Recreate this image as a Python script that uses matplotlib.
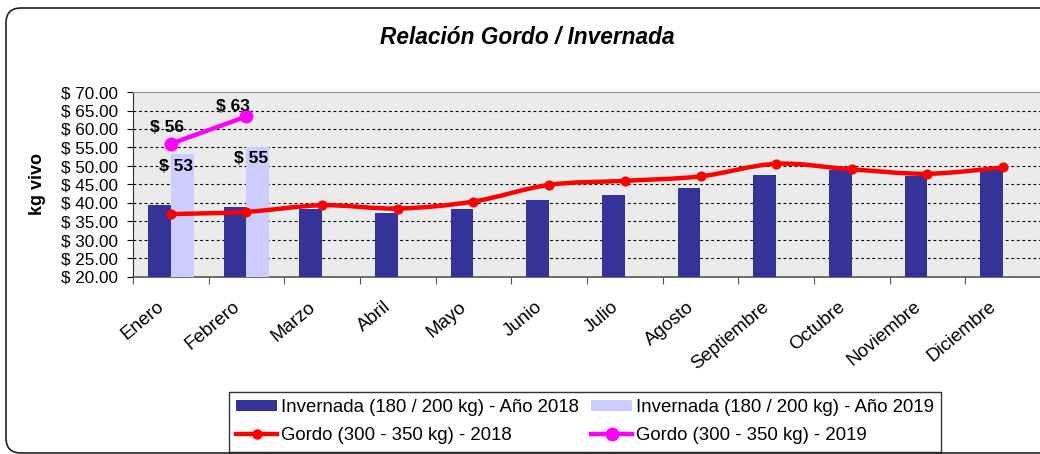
import matplotlib
matplotlib.use("Agg")
import matplotlib.pyplot as plt
import matplotlib.transforms as mtransforms
from matplotlib.path import Path
from matplotlib.patches import PathPatch, FancyBboxPatch, Patch
from matplotlib.lines import Line2D
from matplotlib.ticker import FuncFormatter, MultipleLocator
import numpy as np

plt.rcParams['font.family'] = ['Liberation Sans', 'DejaVu Sans']

months = ["Enero", "Febrero", "Marzo", "Abril", "Mayo", "Junio", "Julio",
          "Agosto", "Septiembre", "Octubre", "Noviembre", "Diciembre"]
invernada_2018 = [39.5, 38.8, 38.4, 37.3, 38.4, 40.7, 42.2, 44.0, 47.6, 48.8, 47.4, 49.0]
invernada_2019 = [53.3, 55.1]
gordo_2018 = [37.0, 37.6, 39.4, 38.5, 40.4, 44.9, 46.0, 47.2, 50.6, 49.1, 47.9, 49.6]
gordo_2019 = [56.0, 63.4]
labels_inv_2019 = ["$ 53", "$ 55"]
labels_gordo_2019 = ["$ 56", "$ 63"]

title = "Relación Gordo / Invernada"
ylabel = "kg vivo"
legend_labels = ["Invernada (180 / 200 kg) - Año 2018",
                 "Invernada (180 / 200 kg) - Año 2019",
                 "Gordo (300 - 350 kg) - 2018",
                 "Gordo (300 - 350 kg) - 2019"]

C_DARK = "#333399"
C_LIGHT = "#CCCCFF"
C_RED = "#FF0000"
C_MAG = "#FF00FF"

W, H = 1040, 454
fig = plt.figure(figsize=(W / 100, H / 100), dpi=100)
fig.patch.set_facecolor("white")

# outer rounded border (in inches; right edge lies outside the picture)
border = FancyBboxPatch((0.06, 0.01), 10.6, 4.46 - 0.01,
                        boxstyle="round,pad=0,rounding_size=0.15",
                        transform=fig.dpi_scale_trans, facecolor="none",
                        edgecolor="#222222", linewidth=1.2)
fig.patches.append(border)

ax = fig.add_axes([133 / W, 1 - 277 / H, (1041 - 133) / W, (277 - 92) / H])
ax.set_facecolor("#EBEBEB")
ax.set_xlim(-0.5, 11.5)
ax.set_ylim(20, 70)

x = np.arange(len(months))
bw = 0.3
ax.bar(x - bw / 2, invernada_2018, width=bw, color=C_DARK, zorder=3)
x19 = np.arange(len(invernada_2019))
ax.bar(x19 + bw / 2, invernada_2019, width=bw, color=C_LIGHT, zorder=3)

ax.yaxis.set_major_locator(MultipleLocator(5))
for v in np.arange(25, 70, 5):
    ax.axhline(v, color="black", linewidth=0.8, linestyle=(0, (2.5, 2.5)), zorder=1)


def smooth_path(xs, ys):
    pts = np.column_stack([xs, ys]).astype(float)
    n = len(pts)
    verts = [pts[0]]
    codes = [Path.MOVETO]
    for i in range(n - 1):
        p0 = pts[i - 1] if i > 0 else pts[i]
        p1 = pts[i]
        p2 = pts[i + 1]
        p3 = pts[i + 2] if i + 2 < n else pts[i + 1]
        c1 = p1 + (p2 - p0) / 6.0
        c2 = p2 - (p3 - p1) / 6.0
        verts += [c1, c2, p2]
        codes += [Path.CURVE4] * 3
    return Path(verts, codes)


ax.add_patch(PathPatch(smooth_path(x, gordo_2018), facecolor="none",
                       edgecolor=C_RED, linewidth=3.2, zorder=4, capstyle="round"))
ax.plot(x, gordo_2018, linestyle="none", marker="o", markersize=6.3,
        color=C_RED, zorder=5)
ax.plot(x19, gordo_2019, color=C_MAG, linewidth=3.2, marker="o",
        markersize=9, zorder=5)

for xi, v, t in zip(x19, gordo_2019, labels_gordo_2019):
    off = (-4, 16) if xi == 0 else (-14, 10)
    ax.annotate(t, (xi, v), xytext=off, textcoords="offset pixels",
                ha="center", va="center", fontsize=12.5, fontweight="bold", zorder=6)
for xi, v, t in zip(x19, invernada_2019, labels_inv_2019):
    off = (-6, -13) if xi == 0 else (-7, -11)
    ax.annotate(t, (xi + bw / 2, v), xytext=off, textcoords="offset pixels",
                ha="center", va="center", fontsize=12.5, fontweight="bold", zorder=6)

for s in ["top", "right"]:
    ax.spines[s].set_color("#909090")
ax.spines["left"].set_color("#333333")
ax.spines["bottom"].set_color("#555555")
ax.spines["bottom"].set_linewidth(1.2)

ax.yaxis.set_major_formatter(FuncFormatter(lambda v, p: f"$ {v:.2f}"))
ax.tick_params(axis="y", direction="out", length=4, pad=7, labelsize=12.3, colors="black")
ax.set_xticks(np.arange(-0.5, 12, 1))
ax.set_xticklabels([])
ax.tick_params(axis="x", direction="out", length=5, color="#555555")
ax.set_xticks(x, minor=True)
ax.set_xticklabels(months, minor=True, rotation=40, ha="right", va="center",
                   rotation_mode="anchor", fontsize=13.5)
ax.tick_params(axis="x", which="minor", length=0, pad=20)
shift = mtransforms.ScaledTranslation(-9 / 100, 0, fig.dpi_scale_trans)
for lbl in ax.get_xticklabels(minor=True):
    lbl.set_transform(lbl.get_transform() + shift)

fig.text(37 / W, 1 - 184 / H, ylabel, rotation=90, ha="center", va="center",
         fontsize=13, fontweight="bold")
fig.text(527 / W, 1 - 38 / H, title, ha="center", va="center",
         fontsize=16.3, fontweight="bold", fontstyle="italic")

h_inv18 = Patch(facecolor=C_DARK)
h_inv19 = Patch(facecolor=C_LIGHT)
h_g18 = Line2D([], [], color=C_RED, linewidth=3.2, marker="o", markersize=6.5)
h_g19 = Line2D([], [], color=C_MAG, linewidth=3.2, marker="o", markersize=9)
handles = [h_inv18, h_g18, h_inv19, h_g19]
labels = [legend_labels[0], legend_labels[2], legend_labels[1], legend_labels[3]]
leg = fig.legend(handles, labels, ncol=2, loc="upper left",
                 bbox_to_anchor=(229 / W, 1 - 392 / H), fontsize=13.4,
                 frameon=True, fancybox=False, edgecolor="black",
                 handlelength=2.2, handleheight=0.55, handletextpad=0.2,
                 columnspacing=0.65, borderpad=0.4, labelspacing=0.58,
                 borderaxespad=0)
leg.get_frame().set_linewidth(1.0)

fig.savefig("out.png", dpi=100)
